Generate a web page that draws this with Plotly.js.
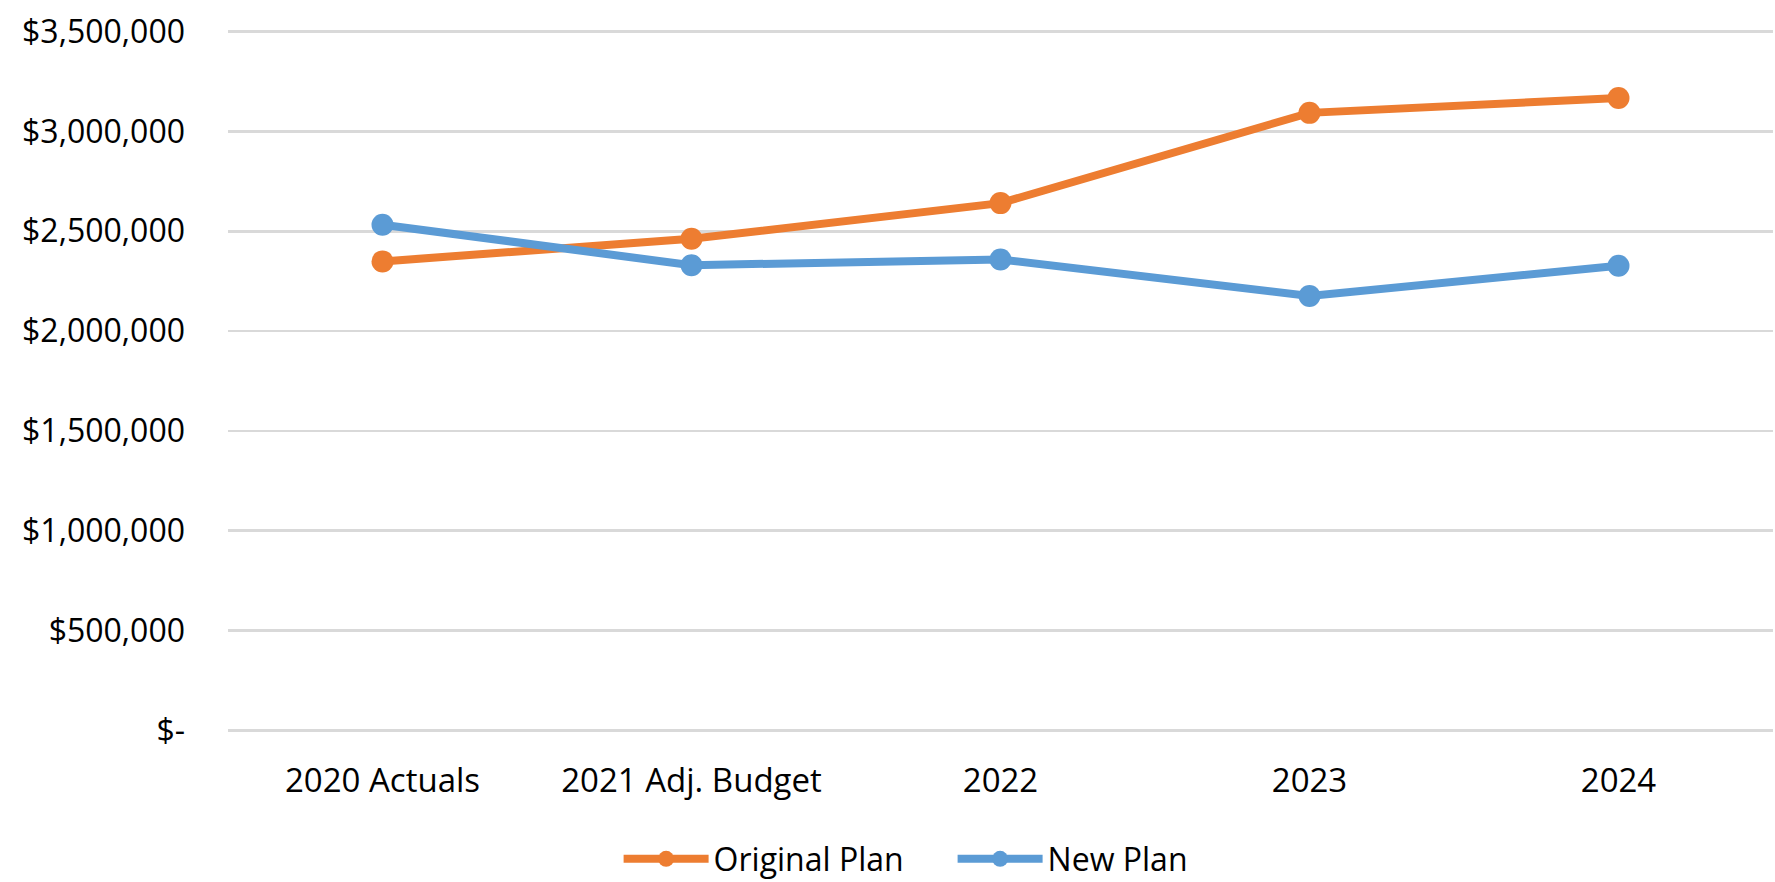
<!DOCTYPE html>
<html>
<head>
<meta charset="utf-8">
<script src="https://cdn.plot.ly/plotly-3.0.1.min.js"></script>
<style>html,body{margin:0;padding:0;background:#fff;}#chart{width:1775px;height:882px;}</style>
</head>
<body>
<div id="chart"></div>
<script>
const categories = ["2020 Actuals", "2021 Adj. Budget", "2022", "2023", "2024"];
const originalPlan = [2349000, 2462000, 2641000, 3093000, 3167000];
const newPlan = [2533000, 2330000, 2359000, 2176000, 2327000];
const yTickVals = [0, 500000, 1000000, 1500000, 2000000, 2500000, 3000000, 3500000];
const yTickText = ["$-", "$500,000", "$1,000,000", "$1,500,000", "$2,000,000", "$2,500,000", "$3,000,000", "$3,500,000"];

const FONT = "Open Sans, Noto Sans, sans-serif";
const traces = [
  {x: categories, y: originalPlan, name: "Original Plan", type: "scatter", mode: "lines+markers",
   line: {color: "#ED7D31", width: 8}, marker: {color: "#ED7D31", size: 22}},
  {x: categories, y: newPlan, name: "New Plan", type: "scatter", mode: "lines+markers",
   line: {color: "#5B9BD5", width: 8}, marker: {color: "#5B9BD5", size: 22}}
];
const layout = {
  width: 1775, height: 882,
  margin: {l: 228, r: 2, t: 30, b: 150, autoexpand: false},
  paper_bgcolor: "#fff", plot_bgcolor: "#fff",
  font: {family: FONT, color: "#000"},
  showlegend: true,
  legend: {orientation: "h", x: 0.469, xanchor: "center", y: -0.181, yanchor: "middle",
           font: {family: FONT, size: 32, color: "#000"}, itemwidth: 85,
           entrywidth: 234, entrywidthmode: "pixels", tracegroupgap: 0},
  xaxis: {type: "category", range: [-0.5, 4.5], showgrid: false, zeroline: false, showline: false,
          ticks: "", tickfont: {family: FONT, size: 33, color: "#000"}, ticklabelstandoff: 26, fixedrange: true},
  yaxis: {range: [-8000, 3508000], tickvals: yTickVals, ticktext: yTickText, showgrid: true,
          gridcolor: "#D9D9D9", gridwidth: 2.5, zeroline: false, showline: false, ticks: "",
          tickfont: {family: FONT, size: 32, color: "#000"}, ticklabelstandoff: 42, fixedrange: true}
};
Plotly.newPlot("chart", traces, layout, {displayModeBar: false, staticPlot: true});
</script>
</body>
</html>
